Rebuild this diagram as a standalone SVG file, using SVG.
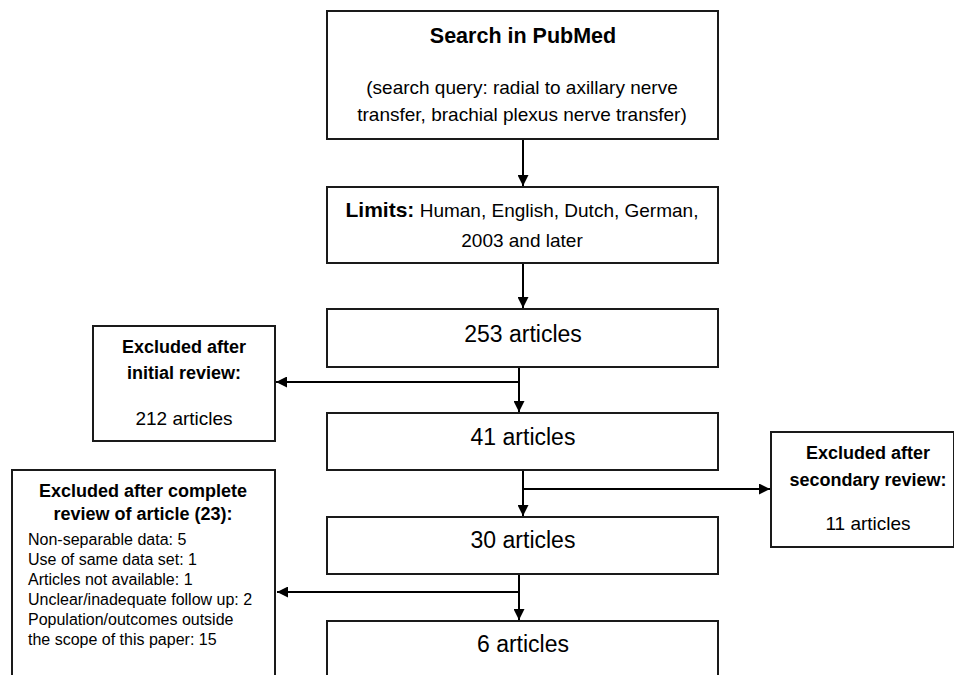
<svg xmlns="http://www.w3.org/2000/svg" width="954" height="675" viewBox="0 0 954 675">
<style>
.box{fill:#fff;stroke:#1a1a1a;stroke-width:2}
.t{font-family:"Liberation Sans",Arial,sans-serif;fill:#000}
.b{font-weight:bold}
.c{text-anchor:middle}
.ln{fill:none;stroke:#000;stroke-width:2}
</style>
<defs>
<marker id="ah" viewBox="0 0 10 10" refX="10" refY="5" markerWidth="5.5" markerHeight="5.5" orient="auto" markerUnits="strokeWidth">
<path d="M0,0 L10,5 L0,10 Z" fill="#000"/>
</marker>
</defs>
<rect width="954" height="675" fill="#fff"/>
<g id="connectors">
<line class="ln" x1="523" y1="139" x2="523" y2="186" marker-end="url(#ah)"/>
<line class="ln" x1="523" y1="263" x2="523" y2="308" marker-end="url(#ah)"/>
<line class="ln" x1="519" y1="367" x2="519" y2="412" marker-end="url(#ah)"/>
<line class="ln" x1="520" y1="382" x2="276" y2="382" marker-end="url(#ah)"/>
<line class="ln" x1="523" y1="470" x2="523" y2="516" marker-end="url(#ah)"/>
<line class="ln" x1="522" y1="489" x2="770" y2="489" marker-end="url(#ah)"/>
<line class="ln" x1="519" y1="574" x2="519" y2="620" marker-end="url(#ah)"/>
<line class="ln" x1="520" y1="592" x2="277" y2="592" marker-end="url(#ah)"/>
</g>
<g id="search">
<rect class="box" x="327" y="11" width="391" height="128"/>
<text class="t b c" x="523" y="43" font-size="21.5">Search in PubMed</text>
<text class="t c" x="522" y="94" font-size="19">(search query: radial to axillary nerve</text>
<text class="t c" x="522" y="121" font-size="19">transfer, brachial plexus nerve transfer)</text>
</g>
<g id="limits">
<rect class="box" x="327" y="187" width="391" height="76"/>
<text class="t c" x="522" y="217" font-size="19"><tspan class="b" font-size="21">Limits:</tspan> Human, English, Dutch, German,</text>
<text class="t c" x="522" y="247" font-size="19">2003 and later</text>
</g>
<g id="n253">
<rect class="box" x="327" y="309" width="391" height="58"/>
<text class="t c" x="523" y="342" font-size="23">253 articles</text>
</g>
<g id="n41">
<rect class="box" x="327" y="413" width="391" height="57"/>
<text class="t c" x="523" y="445" font-size="23">41 articles</text>
</g>
<g id="n30">
<rect class="box" x="327" y="517" width="391" height="57"/>
<text class="t c" x="523" y="548" font-size="23">30 articles</text>
</g>
<g id="n6">
<rect class="box" x="327" y="621" width="391" height="70"/>
<text class="t c" x="523" y="652" font-size="23">6 articles</text>
</g>
<g id="excl-initial">
<rect class="box" x="93" y="326" width="182" height="115"/>
<text class="t b c" x="184" y="353" font-size="18">Excluded after</text>
<text class="t b c" x="184" y="379" font-size="18">initial review:</text>
<text class="t c" x="184" y="425" font-size="19">212 articles</text>
</g>
<g id="excl-secondary">
<rect class="box" x="771" y="432" width="183" height="115"/>
<text class="t b c" x="868" y="459" font-size="18">Excluded after</text>
<text class="t b c" x="868" y="486" font-size="18">secondary review:</text>
<text class="t c" x="868" y="530" font-size="19">11 articles</text>
</g>
<g id="excl-complete">
<rect class="box" x="12" y="470" width="263" height="220"/>
<text class="t b c" x="143" y="497" font-size="18">Excluded after complete</text>
<text class="t b c" x="143" y="520" font-size="18">review of article (23):</text>
<text class="t" x="28" y="545" font-size="16">Non-separable data: 5</text>
<text class="t" x="28" y="565" font-size="16">Use of same data set: 1</text>
<text class="t" x="28" y="585" font-size="16">Articles not available: 1</text>
<text class="t" x="28" y="605" font-size="16">Unclear/inadequate follow up: 2</text>
<text class="t" x="28" y="625" font-size="16">Population/outcomes outside</text>
<text class="t" x="28" y="645" font-size="16">the scope of this paper: 15</text>
</g>
</svg>
